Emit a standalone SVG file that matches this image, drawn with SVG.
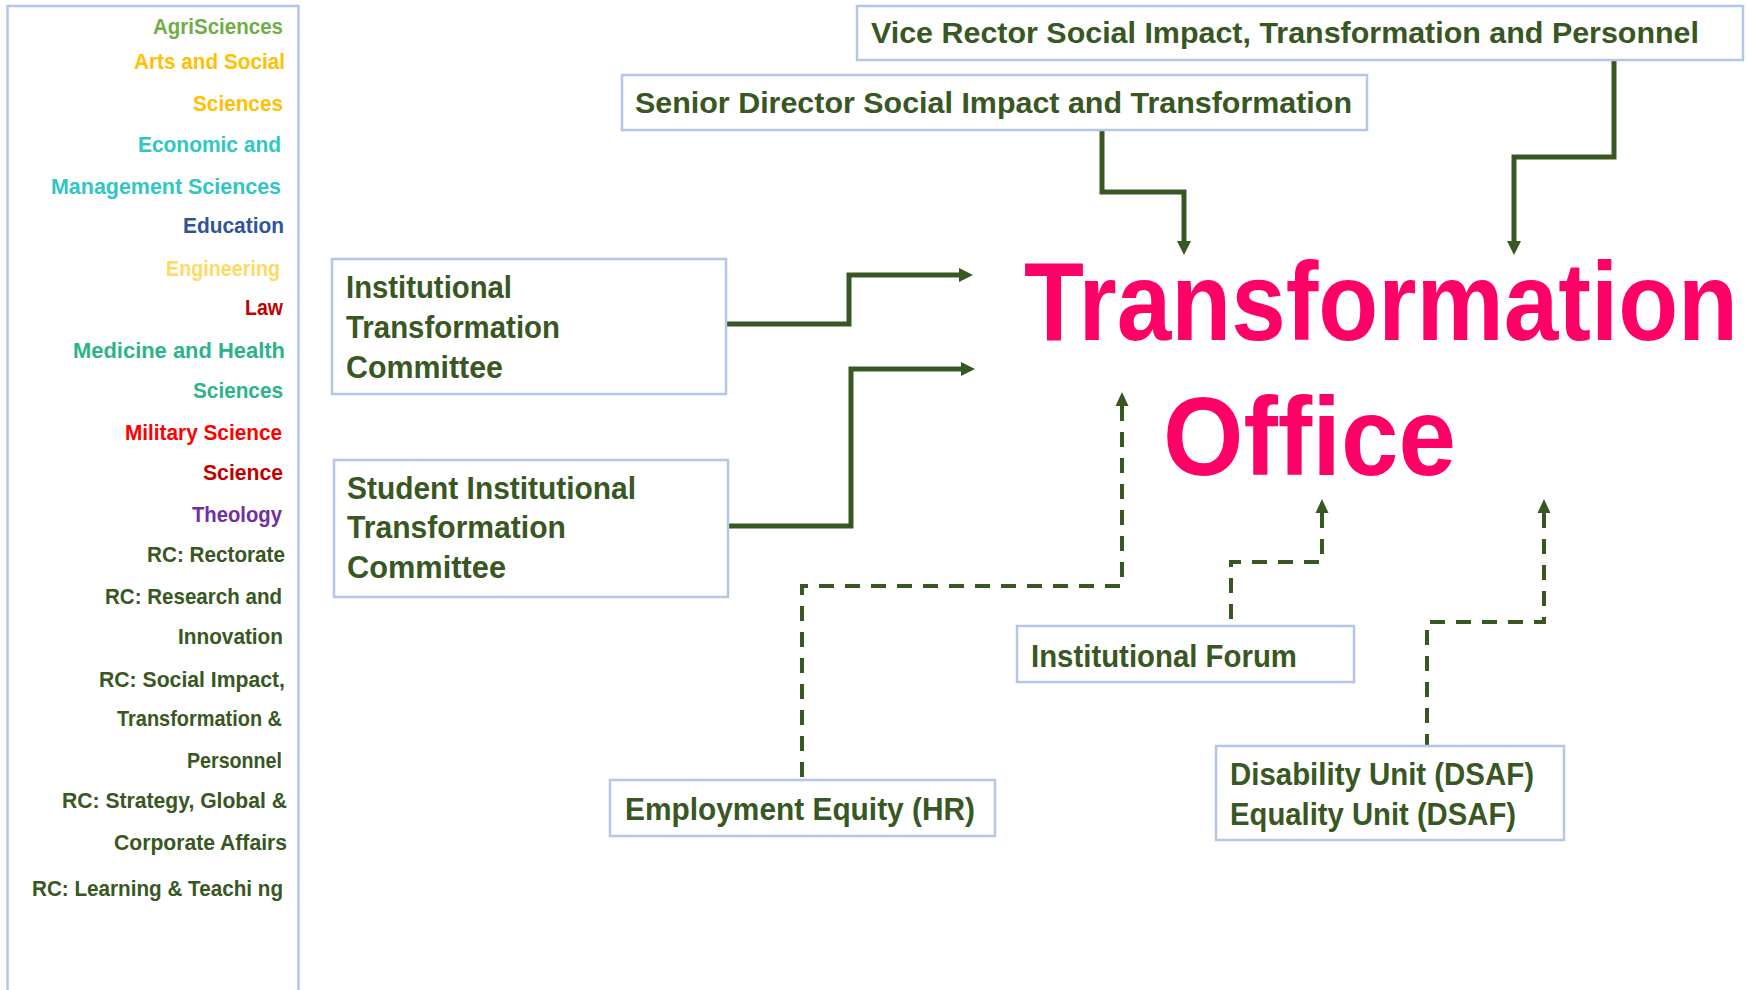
<svg xmlns="http://www.w3.org/2000/svg" width="1749" height="990" viewBox="0 0 1749 990">
  <style>
    .box { fill: #ffffff; stroke: #B4C7E7; stroke-width: 2.5; }
    .lbl { font-family: "Liberation Sans", Arial, sans-serif; font-weight: bold; font-size: 31px; fill: #385723; }
    .lbl-top { font-size: 30px; }
    .fac { font-family: "Liberation Sans", Arial, sans-serif; font-weight: bold; font-size: 22px; }
    .title { font-family: "Liberation Sans", Arial, sans-serif; font-weight: bold; font-size: 112px; fill: #FF0066; }
    .solid { fill: none; stroke: #385723; stroke-width: 5; stroke-linejoin: miter; stroke-linecap: butt; }
    .dashed { fill: none; stroke: #385723; stroke-width: 4; stroke-dasharray: 15 11; stroke-linejoin: miter; stroke-linecap: butt; }
  </style>
  <defs>
    <marker id="head" markerUnits="userSpaceOnUse" markerWidth="15" markerHeight="15" refX="0" refY="7" orient="auto-start-reverse" overflow="visible">
      <path d="M0,0 L14,7 L0,14 Z" fill="#385723"/>
    </marker>
    <marker id="head-sm" markerUnits="userSpaceOnUse" markerWidth="14" markerHeight="14" refX="0" refY="6.5" orient="auto-start-reverse" overflow="visible">
      <path d="M0,0 L14,6.5 L0,13 Z" fill="#385723"/>
    </marker>
  </defs>

  <rect width="1749" height="990" fill="#ffffff"/>

  <!-- Faculty / responsibility-centre list -->
  <g id="faculty-list">
    <rect class="box" x="7.5" y="6" width="291" height="1000"/>
    <text class="fac" x="153" y="34" textLength="130" lengthAdjust="spacingAndGlyphs" fill="#70AD47">AgriSciences</text>
    <text class="fac" x="134" y="69" textLength="151" lengthAdjust="spacingAndGlyphs" fill="#FFC000">Arts and Social</text>
    <text class="fac" x="193" y="111" textLength="90" lengthAdjust="spacingAndGlyphs" fill="#FFC000">Sciences</text>
    <text class="fac" x="138" y="152" textLength="143" lengthAdjust="spacingAndGlyphs" fill="#31C6C6">Economic and</text>
    <text class="fac" x="51" y="194" textLength="230" lengthAdjust="spacingAndGlyphs" fill="#31C6C6">Management Sciences</text>
    <text class="fac" x="183" y="233" textLength="101" lengthAdjust="spacingAndGlyphs" fill="#2F5597">Education</text>
    <text class="fac" x="166" y="276" textLength="114" lengthAdjust="spacingAndGlyphs" fill="#FFD966">Engineering</text>
    <text class="fac" x="245" y="315" textLength="38" lengthAdjust="spacingAndGlyphs" fill="#C00000">Law</text>
    <text class="fac" x="73" y="358" textLength="212" lengthAdjust="spacingAndGlyphs" fill="#2DB38A">Medicine and Health</text>
    <text class="fac" x="193" y="398" textLength="90" lengthAdjust="spacingAndGlyphs" fill="#2DB38A">Sciences</text>
    <text class="fac" x="125" y="440" textLength="157" lengthAdjust="spacingAndGlyphs" fill="#FF0000">Military Science</text>
    <text class="fac" x="203" y="480" textLength="80" lengthAdjust="spacingAndGlyphs" fill="#C00000">Science</text>
    <text class="fac" x="192" y="522" textLength="90" lengthAdjust="spacingAndGlyphs" fill="#7030A0">Theology</text>
    <text class="fac" x="147" y="562" textLength="138" lengthAdjust="spacingAndGlyphs" fill="#385723">RC: Rectorate</text>
    <text class="fac" x="105" y="604" textLength="177" lengthAdjust="spacingAndGlyphs" fill="#385723">RC: Research and</text>
    <text class="fac" x="178" y="644" textLength="105" lengthAdjust="spacingAndGlyphs" fill="#385723">Innovation</text>
    <text class="fac" x="99" y="687" textLength="186" lengthAdjust="spacingAndGlyphs" fill="#385723">RC: Social Impact,</text>
    <text class="fac" x="117" y="726" textLength="165" lengthAdjust="spacingAndGlyphs" fill="#385723">Transformation &amp;</text>
    <text class="fac" x="187" y="768" textLength="95" lengthAdjust="spacingAndGlyphs" fill="#385723">Personnel</text>
    <text class="fac" x="62" y="808" textLength="225" lengthAdjust="spacingAndGlyphs" fill="#385723">RC: Strategy, Global &amp;</text>
    <text class="fac" x="114" y="850" textLength="173" lengthAdjust="spacingAndGlyphs" fill="#385723">Corporate Affairs</text>
    <text class="fac" x="32" y="896" textLength="251" lengthAdjust="spacingAndGlyphs" fill="#385723">RC: Learning &amp; Teachi ng</text>
  </g>

  <!-- Connectors -->
  <g id="connectors">
    <path class="solid" d="M1102,130 V192 H1184 V241" marker-end="url(#head)"/>
    <path class="solid" d="M1614,60 V157 H1514 V241" marker-end="url(#head)"/>
    <path class="solid" d="M726,324 H849 V275 H959" marker-end="url(#head)"/>
    <path class="solid" d="M728,526 H851 V369 H961" marker-end="url(#head)"/>
    <path class="dashed" d="M1122,406 V586 H802 V780" marker-start="url(#head-sm)"/>
    <path class="dashed" d="M1322,513 V562 H1231 V626" marker-start="url(#head-sm)"/>
    <path class="dashed" d="M1544,513 V622 H1427 V746" marker-start="url(#head-sm)"/>
  </g>

  <g id="vice-rector">
    <rect class="box" x="857" y="6" width="886" height="54"/>
    <text class="lbl lbl-top" x="871" y="43" textLength="828" lengthAdjust="spacingAndGlyphs">Vice Rector Social Impact, Transformation and Personnel</text>
  </g>

  <g id="senior-director">
    <rect class="box" x="622" y="75" width="745" height="55"/>
    <text class="lbl lbl-top" x="635" y="113" textLength="717" lengthAdjust="spacingAndGlyphs">Senior Director Social Impact and Transformation</text>
  </g>

  <g id="itc">
    <rect class="box" x="332" y="259" width="394" height="135"/>
    <text class="lbl" x="346" y="298" textLength="166" lengthAdjust="spacingAndGlyphs">Institutional</text>
    <text class="lbl" x="346" y="338" textLength="214" lengthAdjust="spacingAndGlyphs">Transformation</text>
    <text class="lbl" x="346" y="378" textLength="157" lengthAdjust="spacingAndGlyphs">Committee</text>
  </g>

  <g id="sitc">
    <rect class="box" x="334" y="460" width="394" height="137"/>
    <text class="lbl" x="347" y="499" textLength="289" lengthAdjust="spacingAndGlyphs">Student Institutional</text>
    <text class="lbl" x="347" y="538" textLength="219" lengthAdjust="spacingAndGlyphs">Transformation</text>
    <text class="lbl" x="347" y="578" textLength="159" lengthAdjust="spacingAndGlyphs">Committee</text>
  </g>

  <g id="transformation-office">
    <text class="title" x="1024" y="340" textLength="714" lengthAdjust="spacingAndGlyphs">Transformation</text>
    <text class="title" x="1163" y="475" textLength="293" lengthAdjust="spacingAndGlyphs">Office</text>
  </g>

  <g id="institutional-forum">
    <rect class="box" x="1017" y="626" width="337" height="56"/>
    <text class="lbl" x="1031" y="667" textLength="266" lengthAdjust="spacingAndGlyphs">Institutional Forum</text>
  </g>

  <g id="employment-equity">
    <rect class="box" x="610" y="780" width="385" height="56"/>
    <text class="lbl" x="625" y="820" textLength="350" lengthAdjust="spacingAndGlyphs">Employment Equity (HR)</text>
  </g>

  <g id="dsaf-units">
    <rect class="box" x="1216" y="746" width="348" height="94"/>
    <text class="lbl" x="1230" y="785" textLength="304" lengthAdjust="spacingAndGlyphs">Disability Unit (DSAF)</text>
    <text class="lbl" x="1230" y="825" textLength="286" lengthAdjust="spacingAndGlyphs">Equality Unit (DSAF)</text>
  </g>
</svg>
